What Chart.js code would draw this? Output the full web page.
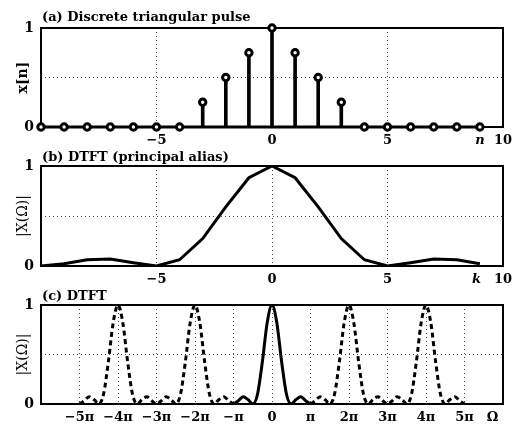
<!DOCTYPE html>
<html>
<head>
<meta charset="utf-8">
<script src="https://cdn.jsdelivr.net/npm/chart.js@4.4.0/dist/chart.umd.min.js"></script>
<style>
  body { margin: 0; background: #fff; }
  .panel { position: absolute; left: 0; width: 512px; }
</style>
</head>
<body>
<div class="panel" style="top:0px;height:147px"><canvas id="chartA"></canvas></div>
<div class="panel" style="top:138px;height:148px"><canvas id="chartB"></canvas></div>
<div class="panel" style="top:277px;height:147px"><canvas id="chartC"></canvas></div>
<script>
// (a) discrete triangular pulse
const nValues = [-10, -9, -8, -7, -6, -5, -4, -3, -2, -1, 0, 1, 2, 3, 4, 5, 6, 7, 8, 9];
const pulseValues = [0, 0, 0, 0, 0, 0, 0, 0.25, 0.5, 0.75, 1, 0.75, 0.5, 0.25, 0, 0, 0, 0, 0, 0];

// (b) DTFT samples, principal alias
const kValues = [-10, -9, -8, -7, -6, -5, -4, -3, -2, -1, 0, 1, 2, 3, 4, 5, 6, 7, 8, 9];
const magK = [0, 0.022, 0.0625, 0.071, 0.033, 0, 0.0625, 0.274, 0.592, 0.883, 1,
              0.883, 0.592, 0.274, 0.0625, 0, 0.033, 0.071, 0.0625, 0.022];

// (c) DTFT, omega in multiples of pi
const omegaMain = [-1, -0.875, -0.75, -0.625, -0.5, -0.375, -0.25, -0.125, 0,
                   0.125, 0.25, 0.375, 0.5, 0.625, 0.75, 0.875, 1];
const magMain = [0, 0.033, 0.073, 0.045, 0, 0.101, 0.427, 0.821, 1,
                 0.821, 0.427, 0.101, 0, 0.045, 0.073, 0.033, 0];
const omegaLeft = [-5, -4.875, -4.75, -4.625, -4.5, -4.375, -4.25, -4.125, -4,
                   -3.875, -3.75, -3.625, -3.5, -3.375, -3.25, -3.125, -3,
                   -2.875, -2.75, -2.625, -2.5, -2.375, -2.25, -2.125, -2,
                   -1.875, -1.75, -1.625, -1.5, -1.375, -1.25, -1.125, -1];
const magLeft = [0, 0.033, 0.073, 0.045, 0, 0.101, 0.427, 0.821, 1,
                 0.821, 0.427, 0.101, 0, 0.045, 0.073, 0.033, 0,
                 0.033, 0.073, 0.045, 0, 0.101, 0.427, 0.821, 1,
                 0.821, 0.427, 0.101, 0, 0.045, 0.073, 0.033, 0];
const omegaRight = [1, 1.125, 1.25, 1.375, 1.5, 1.625, 1.75, 1.875, 2,
                    2.125, 2.25, 2.375, 2.5, 2.625, 2.75, 2.875, 3,
                    3.125, 3.25, 3.375, 3.5, 3.625, 3.75, 3.875, 4,
                    4.125, 4.25, 4.375, 4.5, 4.625, 4.75, 4.875, 5];
const magRight = [0, 0.033, 0.073, 0.045, 0, 0.101, 0.427, 0.821, 1,
                  0.821, 0.427, 0.101, 0, 0.045, 0.073, 0.033, 0,
                  0.033, 0.073, 0.045, 0, 0.101, 0.427, 0.821, 1,
                  0.821, 0.427, 0.101, 0, 0.045, 0.073, 0.033, 0];

// tick positions and labels
const xTicksA = [-5, 0, 5, 9, 10];
const xTickLabelsA = ['−5', '0', '5', 'n', '10'];
const xTicksB = [-5, 0, 5, 8.85, 10];
const xTickLabelsB = ['−5', '0', '5', 'k', '10'];
const xTicksC = [-5, -4, -3, -2, -1, 0, 1, 2, 3, 4, 5, 5.73];
const xTickLabelsC = ['−5π', '−4π', '−3π', '−2π', '−π', '0', 'π', '2π', '3π', '4π', '5π', 'Ω'];
const yTicks = [0, 0.5, 1];
const yTickLabels = ['0', '', '1'];

const serif = '"DejaVu Serif", "Liberation Serif", serif';
const gridColor = '#444';

//turn two arrays into {x, y} points
const toPoints = (xs, ys) => xs.map((x, i) => ({x: x, y: ys[i]}));

//box around the plot and the panel heading
const framePlugin = {
  id: 'frame',
  beforeDatasetsDraw(chart, args, opts) {
    const {ctx, chartArea: a} = chart;
    ctx.save();
    ctx.strokeStyle = '#000';
    ctx.lineWidth = 2;
    ctx.strokeRect(a.left, a.top, a.right - a.left, a.bottom - a.top);
    ctx.restore();
  },
  afterDraw(chart, args, opts) {
    const {ctx, chartArea: a} = chart;
    ctx.save();
    ctx.font = 'bold 13px ' + serif;
    ctx.fillStyle = '#000';
    ctx.textBaseline = 'alphabetic';
    ctx.fillText(opts.text, a.left + 1, a.top - opts.gap);
    ctx.restore();
  }
};

function buildPanel(id, cfg) {
  return new Chart(document.getElementById(id), {
    type: 'line',
    data: { datasets: cfg.datasets },
    options: {
      responsive: true,
      maintainAspectRatio: false,
      animation: false,
      events: [],
      layout: { padding: { left: 0, right: 9, top: 28, bottom: 0 } },
      plugins: {
        legend: { display: false },
        tooltip: { enabled: false },
        frame: { text: cfg.title, gap: cfg.titleGap }
      },
      scales: {
        x: {
          type: 'linear',
          min: cfg.xMin,
          max: cfg.xMax,
          offset: false,
          afterBuildTicks: s => { s.ticks = cfg.xTicks.map(v => ({value: v})); },
          afterFit: s => { s.height = 20; s.paddingLeft = 0; s.paddingRight = 0; },
          ticks: {
            autoSkip: false,
            maxRotation: 0,
            padding: 6,
            color: '#000',
            font: c => (c.tick && c.tick.value === cfg.italicTick)
              ? { family: serif, size: 13, weight: 'bold', style: 'italic' }
              : { family: serif, size: 13, weight: 'bold' },
            callback: (v, i) => cfg.xLabels[i]
          },
          grid: {
            offset: false,
            drawTicks: false,
            lineWidth: 1,
            color: c => (c.tick && cfg.xGrid.includes(c.tick.value)) ? gridColor : 'rgba(0,0,0,0)'
          },
          border: { display: false, dash: [1, 3] }
        },
        y: {
          min: 0,
          max: 1,
          afterBuildTicks: s => { s.ticks = yTicks.map(v => ({value: v})); },
          afterFit: s => { s.width = 41; s.paddingTop = 0; s.paddingBottom = 0; },
          ticks: {
            padding: 7,
            color: '#000',
            font: { family: serif, size: 14, weight: 'bold' },
            callback: (v, i) => yTickLabels[i]
          },
          grid: {
            drawTicks: false,
            lineWidth: 1,
            color: c => (c.tick && c.tick.value === 0.5) ? gridColor : 'rgba(0,0,0,0)'
          },
          border: { display: false, dash: [1, 3] },
          title: {
            display: true,
            text: cfg.yTitle,
            color: '#000',
            font: { family: serif, size: 14, weight: cfg.yTitleWeight },
            padding: { top: 15, bottom: 0 }
          }
        }
      }
    },
    plugins: [framePlugin]
  });
}

document.addEventListener('DOMContentLoaded', () => {

  buildPanel('chartA', {
    title: '(a) Discrete triangular pulse',
    titleGap: 7,
    yTitle: 'x[n]',
    yTitleWeight: 'bold',
    xMin: -10, xMax: 10,
    xTicks: xTicksA, xLabels: xTickLabelsA, xGrid: [-5, 0, 5], italicTick: 9,
    datasets: [
      {
        //circles on top of the stems
        data: toPoints(nValues, pulseValues),
        showLine: false,
        pointRadius: 3.2,
        pointBorderWidth: 3,
        pointBorderColor: '#000',
        pointBackgroundColor: '#fff',
        clip: false,
        order: 0
      },
      {
        type: 'bar',
        data: toPoints(nValues, pulseValues),
        backgroundColor: '#000',
        borderWidth: 0,
        barThickness: 3,
        order: 1
      },
      {
        //stem baseline
        data: nValues.map(n => ({x: n, y: 0})),
        borderColor: '#000',
        borderWidth: 3,
        pointRadius: 0,
        clip: false,
        order: 2
      }
    ]
  });

  buildPanel('chartB', {
    title: '(b) DTFT (principal alias)',
    titleGap: 5,
    yTitle: '|X(Ω)|',
    yTitleWeight: 'normal',
    xMin: -10, xMax: 10,
    xTicks: xTicksB, xLabels: xTickLabelsB, xGrid: [-5, 0, 5], italicTick: 8.85,
    datasets: [
      {
        data: toPoints(kValues, magK),
        borderColor: '#000',
        borderWidth: 3,
        pointRadius: 0,
        tension: 0
      }
    ]
  });

  const dashed = [5, 3.5];
  buildPanel('chartC', {
    title: '(c) DTFT',
    titleGap: 5,
    yTitle: '|X(Ω)|',
    yTitleWeight: 'normal',
    xMin: -6, xMax: 6,
    xTicks: xTicksC, xLabels: xTickLabelsC, xGrid: [-5, -4, -3, -2, -1, 0, 1, 2, 3, 4, 5], italicTick: null,
    datasets: [
      {
        data: toPoints(omegaMain, magMain),
        borderColor: '#000',
        borderWidth: 3,
        pointRadius: 0,
        cubicInterpolationMode: 'monotone'
      },
      {
        data: toPoints(omegaLeft, magLeft),
        borderColor: '#000',
        borderWidth: 3,
        borderDash: dashed,
        pointRadius: 0,
        cubicInterpolationMode: 'monotone'
      },
      {
        data: toPoints(omegaRight, magRight),
        borderColor: '#000',
        borderWidth: 3,
        borderDash: dashed,
        pointRadius: 0,
        cubicInterpolationMode: 'monotone'
      }
    ]
  });
});
</script>
</body>
</html>
